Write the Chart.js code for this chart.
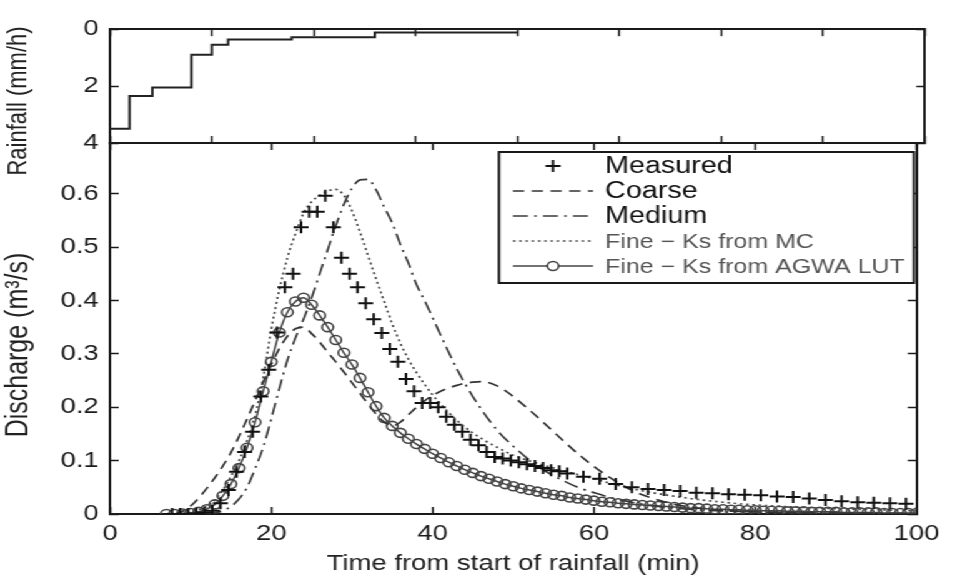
<!DOCTYPE html>
<html>
<head>
<meta charset="utf-8">
<title>Rainfall and discharge</title>
<script src="https://cdn.jsdelivr.net/npm/chart.js@4.4.1/dist/chart.umd.min.js"></script>
<style>
  html, body { margin: 0; padding: 0; background: #fff; overflow: hidden; }
  /* the figure is horizontally stretched, so draw narrow and widen */
  #stage { position: relative; width: 766px; height: 579px; transform: scaleX(1.2493); transform-origin: 0 0; }
  #stage canvas { position: absolute; left: 0; top: 0; }
</style>
</head>
<body>
<div id="stage">
  <canvas id="rainChart" width="766" height="579"></canvas>
  <canvas id="flowChart" width="766" height="579"></canvas>
</div>
<script>
// rainfall hyetograph (step values, mm/h)
const rainTime = [0, 2.4, 5.2, 10, 12.5, 14.5, 22.3, 32.5, 50];
const rainRate = [3.5, 2.35, 2.05, 0.9, 0.55, 0.36, 0.28, 0.12, 0.12];

// measured discharge (m3/s)
const measuredTime = [7.7, 8.7, 9.7, 10.7, 11.7, 12.7, 13.7, 14.7, 15.7, 16.7, 17.7, 18.7, 19.7, 20.7, 21.7, 22.7, 23.7, 24.7, 25.7, 26.7,
  27.7, 28.7, 29.7, 30.7, 31.7, 32.7, 33.7, 34.7, 35.7, 36.7, 37.7, 38.7, 39.7, 40.7, 41.7, 42.7, 43.7, 44.7, 45.7, 46.7,
  47.7, 48.7, 49.7, 50.7, 51.7, 52.7, 53.7, 54.7, 55.7, 56.7, 58.7, 60.7, 62.7, 64.7, 66.7, 68.7, 70.7, 72.7, 74.7, 76.7,
  78.7, 80.7, 82.7, 84.7, 86.7, 88.7, 90.7, 92.7, 94.7, 96.7, 98.7];
const measuredQ = [0, 0, 0, 0.001, 0.003, 0.006, 0.02, 0.045, 0.079, 0.116, 0.154, 0.22, 0.27, 0.34, 0.425, 0.45, 0.537, 0.566, 0.566, 0.596,
  0.537, 0.48, 0.45, 0.425, 0.395, 0.365, 0.339, 0.309, 0.285, 0.253, 0.23, 0.208, 0.208, 0.2, 0.182, 0.167, 0.154, 0.139, 0.129, 0.116,
  0.107, 0.104, 0.1, 0.097, 0.093, 0.09, 0.086, 0.082, 0.08, 0.076, 0.07, 0.066, 0.056, 0.05, 0.047, 0.045, 0.043, 0.04, 0.039, 0.037,
  0.036, 0.035, 0.033, 0.032, 0.029, 0.026, 0.024, 0.022, 0.021, 0.02, 0.019];

// coarse discretisation
const coarseTime = [8, 9, 10, 11, 12, 13, 14, 15, 16, 17, 18, 19, 20, 21, 22, 23, 24, 25, 26, 27, 28, 29, 30, 31, 32, 33, 34, 35,
  36, 37, 38, 39, 40, 41, 42, 43, 44, 45, 46, 47, 48, 49, 50, 52, 54, 56, 58, 60, 62, 64, 66, 68, 70, 75, 80, 90, 100];
const coarseQ = [0, 0.005, 0.015, 0.03, 0.048, 0.068, 0.09, 0.115, 0.145, 0.178, 0.212, 0.247, 0.28, 0.31, 0.333, 0.347, 0.35, 0.338,
  0.322, 0.303, 0.285, 0.266, 0.246, 0.226, 0.206, 0.187, 0.172, 0.165, 0.172, 0.186, 0.2, 0.212, 0.222, 0.23, 0.236, 0.241, 0.245,
  0.247, 0.248, 0.246, 0.24, 0.231, 0.22, 0.195, 0.168, 0.14, 0.113, 0.089, 0.068, 0.05, 0.036, 0.026, 0.018, 0.008, 0.004, 0.001, 0];

// medium discretisation
const mediumTime = [12, 13, 14, 15, 16, 17, 18, 19, 20, 21, 22, 23, 24, 25, 26, 27, 28, 29, 30, 31, 32, 33, 34, 35, 36, 37, 38, 39,
  40, 41, 42, 43, 44, 45, 46, 47, 48, 49, 50, 52, 54, 56, 58, 60, 62, 65, 70, 80, 90, 100];
const mediumQ = [0, 0.002, 0.006, 0.014, 0.028, 0.05, 0.085, 0.125, 0.178, 0.235, 0.288, 0.33, 0.365, 0.405, 0.45, 0.495, 0.54, 0.58,
  0.61, 0.626, 0.627, 0.607, 0.575, 0.545, 0.505, 0.47, 0.43, 0.4, 0.368, 0.335, 0.303, 0.272, 0.245, 0.22, 0.197, 0.176, 0.157,
  0.141, 0.127, 0.101, 0.08, 0.064, 0.05, 0.04, 0.031, 0.021, 0.011, 0.004, 0.002, 0.001];

// fine, Ks from MC
const fineMcTime = [8, 10, 12, 13, 14, 15, 16, 17, 18, 19, 20, 21, 22, 23, 24, 25, 26, 27, 28, 29, 30, 31, 32, 33, 34, 35, 36, 37,
  38, 39, 40, 42, 44, 46, 48, 50, 53, 56, 60, 64, 68, 72, 76, 80, 85, 90, 95, 100];
const fineMcQ = [0, 0.004, 0.014, 0.026, 0.045, 0.07, 0.1, 0.137, 0.185, 0.255, 0.345, 0.42, 0.48, 0.525, 0.563, 0.585, 0.597, 0.605,
  0.608, 0.597, 0.568, 0.528, 0.484, 0.44, 0.398, 0.356, 0.32, 0.29, 0.265, 0.243, 0.223, 0.19, 0.163, 0.142, 0.125, 0.11, 0.095,
  0.082, 0.066, 0.05, 0.038, 0.029, 0.022, 0.017, 0.013, 0.01, 0.008, 0.006];

// fine, Ks from AGWA look-up table
const fineLutTime = [7, 8, 9, 10, 11, 12, 13, 14, 15, 16, 17, 18, 19, 20, 21, 22, 23, 24, 25, 26, 27, 28, 29, 30, 31, 32, 33, 34,
  35, 36, 37, 38, 39, 40, 41, 42, 43, 44, 45, 46, 47, 48, 49, 50, 51, 52, 53, 54, 55, 56, 57, 58, 59, 60, 61, 62, 63, 64, 65, 66,
  67, 68, 69, 70, 71, 72, 73, 74, 75, 76, 77, 78, 79, 80, 81, 82, 83, 84, 85, 86, 87, 88, 89, 90, 91, 92, 93, 94, 95, 96, 97, 98,
  99, 100];
const fineLutQ = [0, 0, 0.001, 0.002, 0.004, 0.009, 0.018, 0.034, 0.056, 0.086, 0.124, 0.172, 0.23, 0.285, 0.34, 0.378, 0.398, 0.405,
  0.392, 0.372, 0.35, 0.326, 0.302, 0.28, 0.255, 0.228, 0.202, 0.18, 0.165, 0.152, 0.141, 0.131, 0.122, 0.113, 0.105, 0.097, 0.09,
  0.083, 0.077, 0.071, 0.066, 0.061, 0.056, 0.052, 0.048, 0.045, 0.042, 0.039, 0.036, 0.034, 0.031, 0.029, 0.027, 0.025, 0.023,
  0.022, 0.02, 0.019, 0.018, 0.017, 0.016, 0.015, 0.014, 0.013, 0.012, 0.011, 0.011, 0.01, 0.009, 0.009, 0.008, 0.008, 0.007,
  0.007, 0.006, 0.006, 0.006, 0.005, 0.005, 0.005, 0.004, 0.004, 0.004, 0.004, 0.003, 0.003, 0.003, 0.003, 0.003, 0.002, 0.002,
  0.002, 0.002, 0.002];

const FONT = "'Liberation Sans', Arial, sans-serif";
const INK = "#1a1a1a";

const pts = (xs, ys) => xs.map((x, i) => ({ x, y: ys[i] }));

// force axis box sizes so both panels line up
const fixWidth = w => s => { s.width = w; };
const fixHeight = h => s => { s.height = h; };

// inward tick marks, MATLAB style box
function boxAxis(extra) {
    return Object.assign({
        type: "linear",
        grid: { drawOnChartArea: false, drawTicks: true, tickLength: -7, tickWidth: 1.5, tickColor: INK },
        border: { display: true, color: INK, width: 2 },
        ticks: { color: INK, font: { family: FONT, size: 22 }, maxRotation: 0, autoSkip: false }
    }, extra);
}

const yTitles = {
    id: "yTitles",
    afterDraw(chart, args, opts) {
        const ctx = chart.ctx;
        ctx.save();
        ctx.translate(opts.x, opts.y);
        ctx.rotate(-Math.PI / 2);
        ctx.font = `${opts.size}px ${FONT}`;
        ctx.fillStyle = "#222";
        ctx.textAlign = "center";
        ctx.textBaseline = "middle";
        ctx.fillText(opts.text, 0, 0);
        ctx.restore();
    }
};

const boxLegend = {
    id: "boxLegend",
    afterDraw(chart, args, o) {
        const ctx = chart.ctx;
        ctx.save();
        ctx.fillStyle = "#fff";
        ctx.fillRect(o.left, o.top, o.width, o.height);
        ctx.lineWidth = 2;
        ctx.strokeStyle = INK;
        ctx.strokeRect(o.left, o.top, o.width, o.height);
        const mid = (o.sampleLeft + o.sampleRight) / 2;
        chart.data.datasets.forEach((ds, i) => {
            const y = o.top + o.firstRow + i * o.rowGap;
            if (ds.showLine !== false) {
                ctx.setLineDash(ds.borderDash || []);
                ctx.lineWidth = ds.borderWidth;
                ctx.strokeStyle = ds.borderColor;
                ctx.beginPath();
                ctx.moveTo(o.sampleLeft, y);
                ctx.lineTo(o.sampleRight, y);
                ctx.stroke();
                ctx.setLineDash([]);
            }
            if (ds.pointRadius > 0) {
                ctx.strokeStyle = ds.pointBorderColor;
                ctx.fillStyle = "#fff";
                ctx.lineWidth = ds.pointBorderWidth;
                Chart.helpers.drawPoint(ctx, {
                    pointStyle: ds.pointStyle, rotation: 0,
                    radius: ds.pointRadius, borderWidth: ds.pointBorderWidth
                }, mid, y);
            }
            ctx.font = `${o.sizes[i]}px ${FONT}`;
            ctx.fillStyle = o.colors[i];
            ctx.textAlign = "left";
            ctx.textBaseline = "middle";
            ctx.fillText(ds.label, o.textLeft, y + 1);
        });
        ctx.restore();
    }
};

// top panel: rainfall
new Chart(document.getElementById("rainChart"), {
    type: "line",
    data: {
        datasets: [{
            label: "Rainfall",
            data: pts(rainTime, rainRate),
            stepped: true,
            borderColor: "#222",
            borderWidth: 2,
            pointRadius: 0,
            fill: false
        }]
    },
    options: {
        responsive: false,
        devicePixelRatio: 1,
        animation: false,
        events: [],
        layout: { autoPadding: false, padding: { left: 0, right: 25.6, top: 16, bottom: 436 } },
        plugins: {
            legend: { display: false },
            tooltip: { enabled: false },
            yTitles: { text: "Rainfall (mm/h)", x: 15, y: 101, size: 22 }
        },
        scales: {
            x: boxAxis({ position: "bottom", min: 0, max: 100, ticks: { display: false, stepSize: 12.5 }, afterFit: fixHeight(0) }),
            xTop: boxAxis({ position: "top", min: 0, max: 100, ticks: { display: false, stepSize: 12.5 }, afterFit: fixHeight(0) }),
            y: boxAxis({
                position: "left", min: 0, max: 4, reverse: true,
                ticks: { stepSize: 2, padding: 16, color: INK, font: { family: FONT, size: 22 } },
                afterFit: fixWidth(88)
            }),
            yRight: boxAxis({ position: "right", min: 0, max: 4, reverse: true, ticks: { display: false, stepSize: 2 }, afterFit: fixWidth(0) })
        }
    },
    plugins: [yTitles]
});

// bottom panel: discharge
new Chart(document.getElementById("flowChart"), {
    type: "line",
    data: {
        datasets: [
            {
                label: "Measured",
                data: pts(measuredTime, measuredQ),
                showLine: false,
                pointStyle: "cross",
                pointRadius: 6,
                pointBorderWidth: 2,
                pointBorderColor: "#111",
                borderColor: "#111",
                borderWidth: 2
            },
            {
                label: "Coarse",
                data: pts(coarseTime, coarseQ),
                borderColor: "#333",
                borderWidth: 1.7,
                borderDash: [9, 6],
                pointRadius: 0,
                cubicInterpolationMode: "monotone"
            },
            {
                label: "Medium",
                data: pts(mediumTime, mediumQ),
                borderColor: "#3a3a3a",
                borderWidth: 1.7,
                borderDash: [12, 5, 2, 5],
                pointRadius: 0,
                cubicInterpolationMode: "monotone"
            },
            {
                label: "Fine \u2212 Ks from MC",
                data: pts(fineMcTime, fineMcQ),
                borderColor: "#4a4a4a",
                borderWidth: 1.7,
                borderDash: [2, 3],
                pointRadius: 0,
                cubicInterpolationMode: "monotone"
            },
            {
                label: "Fine \u2212 Ks from AGWA LUT",
                data: pts(fineLutTime, fineLutQ),
                borderColor: "#444",
                borderWidth: 1.5,
                pointStyle: "circle",
                pointRadius: 4.5,
                pointBorderWidth: 1.6,
                pointBorderColor: "#444",
                pointBackgroundColor: "rgba(255,255,255,0)",
                cubicInterpolationMode: "monotone"
            }
        ]
    },
    options: {
        responsive: false,
        devicePixelRatio: 1,
        animation: false,
        events: [],
        layout: { autoPadding: false, padding: { left: 0, right: 25.6, top: 143, bottom: 0 } },
        plugins: {
            legend: { display: false },
            tooltip: { enabled: false },
            yTitles: { text: "Discharge (m\u00b3/s)", x: 15, y: 345, size: 25 },
            boxLegend: {
                left: 399.4, top: 152, width: 332.2, height: 131,
                firstRow: 14, rowGap: 25,
                sampleLeft: 410.6, sampleRight: 474.7, textLeft: 484.3,
                sizes: [23, 23, 23, 20, 20],
                colors: ["#111", "#111", "#111", "#555", "#555"]
            }
        },
        scales: {
            x: boxAxis({
                position: "bottom", min: 0, max: 100,
                ticks: { stepSize: 20, padding: 14, color: INK, font: { family: FONT, size: 22 } },
                title: {
                    display: true, text: "Time from start of rainfall (min)", color: "#222",
                    font: { family: FONT, size: 22 }, padding: { top: 0, bottom: 2 }
                },
                afterFit: fixHeight(65)
            }),
            xTop: boxAxis({ position: "top", min: 0, max: 100, ticks: { display: false, stepSize: 20 }, afterFit: fixHeight(0) }),
            y: boxAxis({
                position: "left", min: 0, max: 0.695,
                ticks: { stepSize: 0.1, padding: 16, color: INK, font: { family: FONT, size: 22 } },
                afterBuildTicks: s => { s.ticks = s.ticks.filter(t => t.value < 0.65); },
                afterFit: fixWidth(88)
            }),
            yRight: boxAxis({
                position: "right", min: 0, max: 0.695,
                ticks: { display: false, stepSize: 0.1 },
                afterBuildTicks: s => { s.ticks = s.ticks.filter(t => t.value < 0.65); },
                afterFit: fixWidth(0)
            })
        }
    },
    plugins: [yTitles, boxLegend]
});
</script>
</body>
</html>
